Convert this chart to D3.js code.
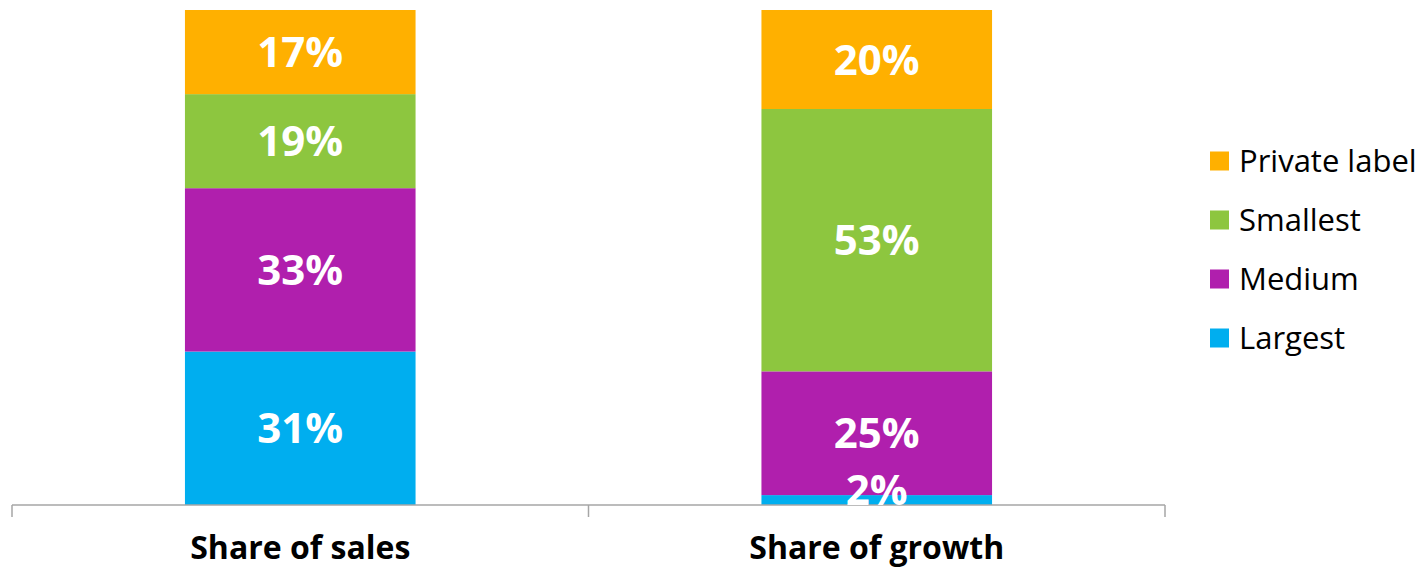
<!doctype html>
<html>
    <head>
        <title>Share of sales vs share of growth</title>
        <script src="https://d3js.org/d3.v7.min.js"></script>
        <style>
            body { margin: 0; background: #fff; }
            text { font-family: "Open Sans", sans-serif; }
        </style>
    </head>

    <body>
        <script>

            // data
            var categories = ["Share of sales", "Share of growth"];
            var segments = ["Largest", "Medium", "Smallest", "Private label"];
            var largest = [31, 2];
            var medium = [33, 25];
            var smallest = [19, 53];
            var privateLabel = [17, 20];
            var colors = ["#00aeef", "#b01fad", "#8dc63f", "#ffb000"];

            var width = 1424;
            var height = 568;

            var rows = categories.map(function (c, i) {
                return {
                    cat: c,
                    "Largest": largest[i],
                    "Medium": medium[i],
                    "Smallest": smallest[i],
                    "Private label": privateLabel[i]
                };
            });

            var stack = d3.stack().keys(segments)(rows);

            var svg = d3.select("body")
                .append("svg")
                .attr("width", width)
                .attr("height", height);

            var x = d3.scaleBand()
                .domain(categories)
                .range([12, 1165])
                .padding(0);

            var y = d3.scaleLinear()
                .domain([0, 100])
                .range([505, 10]);

            var color = d3.scaleOrdinal()
                .domain(segments)
                .range(colors);

            var barW = x.bandwidth() * 0.4;

            // stacked bars
            var layers = svg.selectAll(".layer")
                .data(stack)
                .enter().append("g")
                .attr("class", "layer")
                .attr("fill", function (d) { return color(d.key); });

            layers.selectAll("rect")
                .data(function (d) { return d; })
                .enter().append("rect")
                .attr("x", function (d) { return x(d.data.cat) + x.bandwidth() / 2 - barW / 2; })
                .attr("y", function (d) { return y(d[1]); })
                .attr("width", barW)
                .attr("height", function (d) { return y(d[0]) - y(d[1]); });

            // axis line with ticks between the categories
            var axis = svg.append("g").attr("stroke", "#a6a6a6").attr("stroke-width", 1.5);
            axis.append("line")
                .attr("x1", 12).attr("x2", 1165)
                .attr("y1", 505).attr("y2", 505);
            var tickXs = categories.map(function (c) { return x(c); }).concat([x.range()[1]]);
            axis.selectAll(".tick")
                .data(tickXs)
                .enter().append("line")
                .attr("x1", function (d) { return d; })
                .attr("x2", function (d) { return d; })
                .attr("y1", 505).attr("y2", 517);

            // value labels on top of everything, nudged up when the slice is thin
            var labels = svg.append("g");
            stack.forEach(function (layer) {
                labels.selectAll(null)
                    .data(layer)
                    .enter().append("text")
                    .attr("x", function (d) { return x(d.data.cat) + x.bandwidth() / 2; })
                    .attr("y", function (d) {
                        var mid = (y(d[0]) + y(d[1])) / 2;
                        return Math.min(mid, y(d[0]) - 15) + 15;
                    })
                    .attr("text-anchor", "middle")
                    .attr("fill", "#fff")
                    .attr("font-weight", "bold")
                    .attr("font-size", "42px")
                    .text(function (d) { return (d[1] - d[0]) + "%"; });
            });

            svg.selectAll(".cat")
                .data(categories)
                .enter().append("text")
                .attr("class", "cat")
                .attr("x", function (d) { return x(d) + x.bandwidth() / 2; })
                .attr("y", 559)
                .attr("text-anchor", "middle")
                .attr("font-weight", "bold")
                .attr("font-size", "32px")
                .attr("fill", "#000")
                .text(function (d) { return d; });

            // legend, top item is the top segment
            var legend = svg.selectAll(".legend")
                .data(segments.slice().reverse())
                .enter().append("g")
                .attr("class", "legend")
                .attr("transform", function (d, i) {
                    return "translate(1210," + (161 + i * 59) + ")";
                });

            legend.append("rect")
                .attr("x", 0)
                .attr("y", -9.5)
                .attr("width", 19)
                .attr("height", 19)
                .attr("fill", function (d) { return color(d); });

            legend.append("text")
                .attr("x", 29)
                .attr("y", 11)
                .attr("font-size", "31px")
                .attr("fill", "#000")
                .text(function (d) { return d; });

        </script>
    </body>
</html>
